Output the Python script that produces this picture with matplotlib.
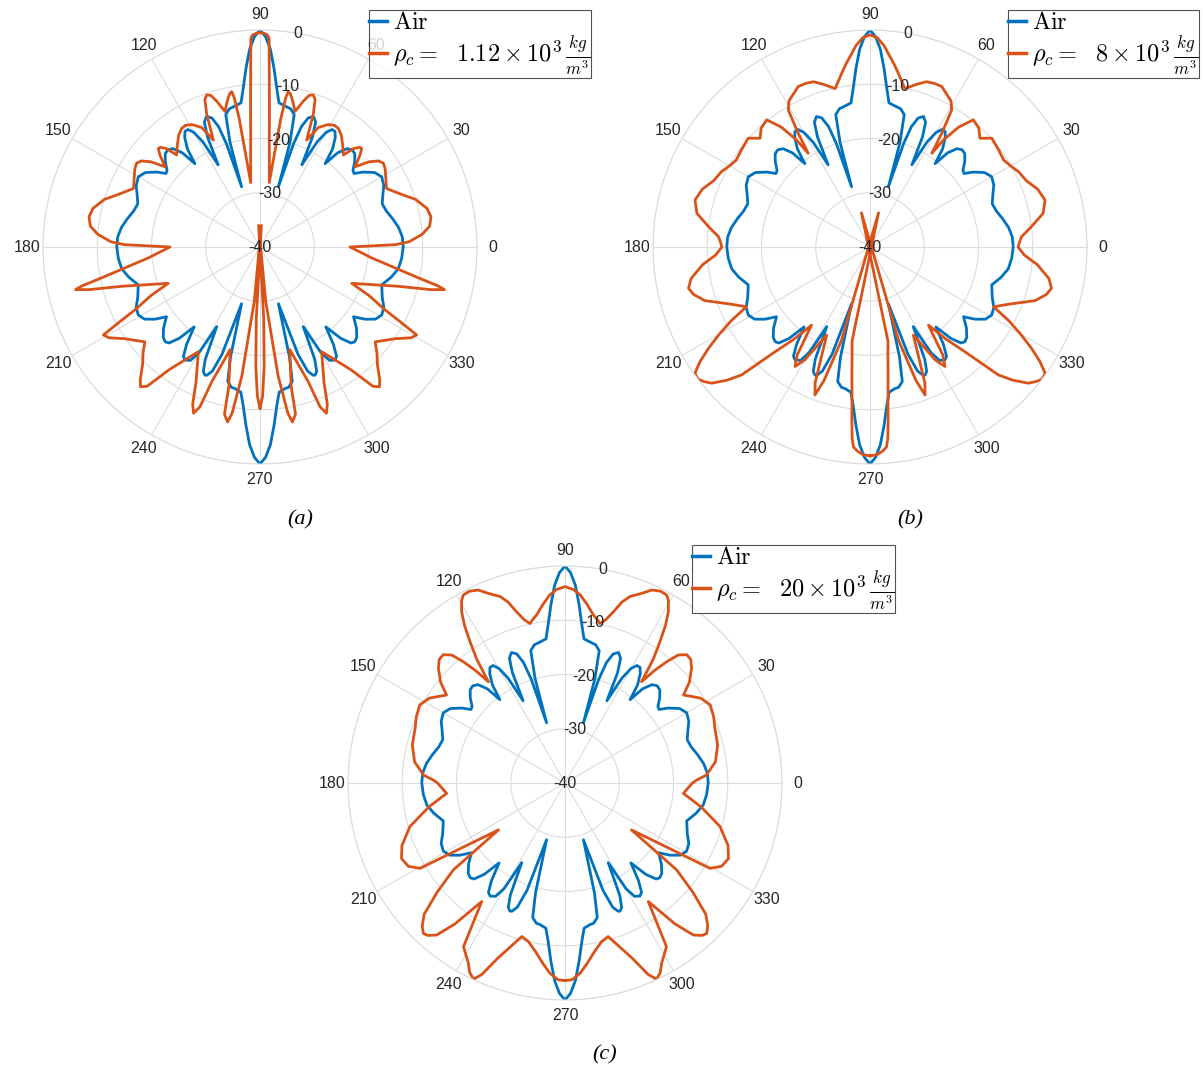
import numpy as np
import matplotlib
matplotlib.use("Agg")
import matplotlib.pyplot as plt
from matplotlib.lines import Line2D

plt.rcParams['mathtext.fontset'] = 'cm'
plt.rcParams['axes.unicode_minus'] = False

# Radiation patterns in dB, right half of the plane (angles -90..90 deg);
# the patterns are symmetric about the 90-270 axis.
air_ang = [-90, -88.5, -87, -85.5, -84, -82.5, -80, -78.5, -76.5, -75, -72,
           -70.5, -69, -67.5, -66.7, -65.5, -64, -61.5,
           -60, -58.5, -56.5, -55, -53, -50.5,
           -48.5, -46.5, -45, -43, -40, -36.7,
           -34.5, -32, -29.2, -26, -22.5, -17.3,
           -13, -9, -4.6, 0, 4, 8, 12,
           16, 19.5, 23, 26.5, 30, 33, 36, 38,
           39.5, 42, 44.5, 46.5, 48.5, 50.5, 52,
           53.5, 55.5, 57, 58.5, 60, 61.5, 63,
           64.5, 66, 67.7, 69.5, 71, 72, 73,
           74, 75.5, 77.5, 80, 82.5, 84, 85.5, 87, 88.5, 90]
air_db = [0, -1.2, -3.5, -7, -10.5, -13, -13.5, -13.6, -14.5, -19, -29,
          -19, -15.5, -14.4, -14.3, -14.8, -17, -23.3,
          -17.5, -15.5, -15, -15.4, -17.5, -20.9,
          -17.5, -15.6, -15.3, -15.6, -16.8, -18.5,
          -16.5, -14.9, -14.3, -14.6, -15.6, -16.5,
          -15.2, -14.2, -13.8, -13.6, -13.7, -14.2, -15,
          -15.8, -16.1, -15.4, -14.5, -14.1, -14.8, -16.5, -18,
          -17.8, -16.5, -15.5, -15.3, -15.8, -17.5, -20.5,
          -17.5, -15.5, -14.6, -14.6, -15.6, -18, -23,
          -17.5, -14.8, -14, -14.6, -16.5, -20, -28.4,
          -20, -14.8, -13.9, -13.6, -13.2, -10.5, -7, -3.5, -1.2, 0]

rho_a_ang = [-90, -89, -88, -87, -86.3, -84, -82, -80.5, -79.5, -78, -77.4, -73.8,
             -70.3, -69.4, -68.2, -66.8, -64.7, -59.5,
             -53.5, -51, -49.5, -48, -45, -42, -39.5,
             -34, -31, -29.3, -28.1, -26.6, -24, -21.6,
             -18.2, -15.9, -14, -13, -12.3, -11.2, -8.9, -5.6, 0,
             1, 2, 4.5, 7, 10, 13, 17, 21, 24.8,
             29, 32, 34.2, 36, 38, 40.2, 42.5, 44.1, 45, 46.5, 47.8,
             51, 54, 56.6, 58.5, 61, 64, 66.4,
             68.2, 69.5, 70.7, 72, 73.5, 75.5, 77.5, 78.8, 79.7, 80.2, 80.8, 81.8,
             83.8, 85.1, 86, 86.7, 87.2, 87.5, 88, 89, 90]
rho_a_db = [-10.3, -12.5, -18, -27, -44, -30, -16, -9, -7.2, -8.5, -13.7, -20.3,
            -13.6, -8.5, -7.0, -8.5, -12.4, -17.6,
            -11.9, -7.0, -6.1, -7.0, -9.4, -11, -12.5,
            -9.8, -7.5, -6.9, -10.6, -14.4, -18, -21.8,
            -17.7, -13.6, -7.5, -5.1, -6.5, -9.8, -14.6, -19.3, -23.4,
            -15, -12.5, -10, -8.5, -8.0, -8.4, -10, -12.5, -14.3,
            -13.5, -12.8, -12.5, -13, -14.5, -17.1, -15, -13.9, -14, -15, -17.1,
            -15.8, -14.5, -13.8, -13.7, -14.2, -15.5, -18.5,
            -13.5, -11, -10.3, -10.6, -12, -14.2, -12.3, -11.2, -10.9, -12, -16, -28,
            -24, -20, -15, -10, -5, -1.5, -0.9, -0.6, -0.5]

rho_b_ang = [-90, -88, -86.5, -85.3, -84.7, -84, -83.2, -82, -80.5, -79.2, -76,
             -73, -71, -69.6, -68, -63.8, -60, -57.9, -56, -53.2,
             -50.5, -47.8, -44.9, -43, -40.7, -39, -37.5, -35.8, -34, -32, -30, -28, -25.8,
             -22, -18, -15, -12.8, -10, -6, -3, 0,
             2, 3.9, 7.2, 11, 15, 19, 23, 26.9, 29.6, 33, 37, 41.8, 44.7, 47.5, 50.9,
             53.5, 55.5, 56.6, 57.8, 59.2, 61, 62.5, 65.9, 68.5, 71.1, 74, 77.6,
             80.7, 82.5, 84, 86, 88, 90]
rho_b_db = [-1.5, -1.7, -2.3, -3, -4.5, -8, -12, -16, -20, -22.3, -46.5,
            -22, -14, -10.9, -13, -21.9, -16, -14, -16, -22,
            -18, -13.9, -6.6, -4, -1.5, -0.6, 0, -0.2, -2.2, -5, -8, -11, -14.7,
            -12, -8, -6.3, -5.7, -6.5, -9, -11.5, -12.7,
            -12.4, -12, -10, -7.5, -6.6, -7.3, -8.7, -9.3, -10, -10.6, -10.3, -9.9, -11.5, -10.3, -9.8,
            -12.5, -16, -19.3, -15, -10.6, -9.2, -8.75, -7.6, -7.6, -7.8, -8.8, -10.1,
            -7.6, -6, -4.7, -2.8, -1.4, -0.9]

rho_c_ang = [-90, -88, -85.5, -83, -80, -77, -74.3,
             -69, -66.5, -65, -63.3, -61.8, -58.2, -56.8, -54.9,
             -52, -49.8, -48, -46.7, -45, -43, -40.5, -37.9, -35.2,
             -32, -30.5, -28, -24.8, -21, -15.7, -10, -5,
             0, 1.3, 3.2, 8, 14, 20, 24, 28.3, 32, 34.5, 36.6,
             39, 42.2, 44.5, 46.5, 48.5, 50, 51.5, 52.9,
             54.5, 56.1, 57.5, 58.9, 60.5, 61.6, 63.5, 65.8, 68, 70.8, 72.5, 74.2, 76, 77.6,
             79, 80.4, 83, 85.4, 87.5, 90]
rho_c_db = [-3.6, -3.7, -4.8, -6.5, -8.5, -10, -10.6,
            -5.4, -1.5, -0.1, -0.9, -2.3, -4.5, -8.9, -13.3,
            -7, -3.3, -2.2, -1.9, -2.8, -4.5, -9, -13.9, -25,
            -17, -9, -7.3, -6.8, -7.8, -10.3, -14.5, -18.1,
            -16.5, -15.7, -13.9, -12, -11, -10.6, -10, -9.6, -10.5, -11.8, -12.8,
            -10.5, -8.5, -7.5, -7.4, -8.5, -10.8, -13.5, -16.6,
            -12, -8.6, -5.5, -3.1, -1.3, -0.6, -0.5, -1.0, -2.3, -3.6, -5, -7.2, -9, -9.9,
            -9.2, -8.6, -6.8, -5.2, -4.3, -3.8]

rho_labels = [r'$\rho_c =\ \ 1.12 \times 10^3\, \frac{kg}{m^3}$',
              r'$\rho_c =\ \ 8 \times 10^3\, \frac{kg}{m^3}$',
              r'$\rho_c =\ \ 20 \times 10^3\, \frac{kg}{m^3}$']
captions = ['(a)', '(b)', '(c)']
theta_ticks = list(range(0, 360, 30))
r_ticks = [-40, -30, -20, -10, 0]

AIR_COLOR = '#0072BD'
RHO_COLOR = '#D95319'
R_MIN, R_MAX = -40, 0
W, H = 1203, 1073
RAD = 217
SANS = ['Liberation Sans', 'DejaVu Sans']


def full_pattern(ang, db):
    """Mirror a right-half pattern about the 90-270 axis to get the full circle."""
    ang = np.asarray(ang, float)
    db = np.asarray(db, float)
    ang_full = np.concatenate([ang, (180 - ang[::-1])[1:]])
    db_full = np.concatenate([db, db[::-1][1:]])
    return ang_full, db_full


def polar_coords(ang, db):
    """Values below the radial limit are reflected through the origin."""
    th = np.deg2rad(ang)
    low = db < R_MIN
    th = np.where(low, th + np.pi, th)
    r = np.where(low, 2 * R_MIN - db, db)
    return th, r


fig = plt.figure(figsize=(W / 100, H / 100), dpi=100)

centers = [(260, 247), (870, 247), (565, 783)]
legend_pos = [(369, 10), (1008, 10), (692, 545)]
caption_pos = [(300, 520), (910, 520), (605, 1055)]
rho_sets = [(rho_a_ang, rho_a_db), (rho_b_ang, rho_b_db), (rho_c_ang, rho_c_db)]

for k in range(3):
    cx, cy = centers[k]
    ax = fig.add_axes([(cx - RAD) / W, 1 - (cy + RAD) / H, 2 * RAD / W, 2 * RAD / H],
                      projection='polar')
    ax.set_rlim(R_MIN, R_MAX)
    ax.set_rticks(r_ticks)
    ax.set_yticklabels([])
    ax.set_thetagrids(theta_ticks, labels=[str(t) for t in theta_ticks],
                      family=SANS, fontsize=11.5, color='#262626')
    ax.tick_params(axis='x', pad=1)
    ax.tick_params(axis='y', length=0)
    ax.grid(color='#dcdcdc', lw=0.8)
    ax.spines['polar'].set_color('#dcdcdc')
    ax.spines['polar'].set_linewidth(0.8)
    for rv in r_ticks:
        ax.text(np.deg2rad(80), rv, str(rv), ha='center', va='center',
                family=SANS, fontsize=11.5, color='#262626')

    th, r = polar_coords(*full_pattern(air_ang, air_db))
    ax.plot(th, r, color=AIR_COLOR, lw=2.0, solid_joinstyle='round')
    th, r = polar_coords(*full_pattern(*rho_sets[k]))
    ax.plot(th, r, color=RHO_COLOR, lw=2.0, solid_joinstyle='round')

    handles = [Line2D([], [], color=AIR_COLOR, lw=2.5), Line2D([], [], color=RHO_COLOR, lw=2.5)]
    lx, ly = legend_pos[k]
    leg = fig.legend(handles, [r'$\mathrm{Air}$', rho_labels[k]], loc='upper left',
                     bbox_to_anchor=(lx / W, 1 - ly / H), frameon=True, fancybox=False,
                     edgecolor='#262626', handlelength=0.7, handletextpad=0.25, borderpad=0.02,
                     labelspacing=0.0, borderaxespad=0, fontsize=17.5)
    leg.get_frame().set_linewidth(0.8)

    px, py = caption_pos[k]
    fig.text(px / W, 1 - py / H, captions[k], ha='center', va='center',
             family='Liberation Serif', style='italic', fontsize=16)

fig.savefig('out.png', dpi=100)
